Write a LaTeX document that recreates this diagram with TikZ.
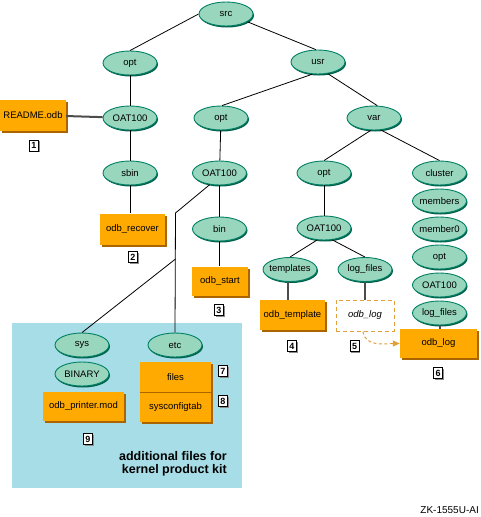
\documentclass[tikz,border=0pt]{standalone}
\usepackage{fontspec}
\setmainfont{Liberation Sans}
\usetikzlibrary{shapes.geometric,shadows,arrows.meta}

\definecolor{dirfill}{RGB}{153,214,190}
\definecolor{dirline}{RGB}{0,128,100}
\definecolor{dirshade}{RGB}{0,96,76}
\definecolor{filefill}{RGB}{255,170,0}
\definecolor{fileshade}{RGB}{170,100,0}
\definecolor{kitblue}{RGB}{166,221,230}
\definecolor{hintline}{RGB}{225,160,60}

\begin{document}
\begin{tikzpicture}[x=1pt,y=-1pt,
    dir/.style={ellipse,draw=dirline,line width=0.9pt,fill=dirfill,
      minimum width=54pt,minimum height=24pt,inner xsep=-10pt,inner ysep=0pt,
      font=\fontsize{9.5}{10}\selectfont,
      drop shadow={shadow xshift=1pt,shadow yshift=-1.5pt,fill=dirshade,opacity=1}},
    file/.style={rectangle,fill=filefill,inner sep=0pt,
      font=\fontsize{9.5}{10}\selectfont,
      drop shadow={shadow xshift=2pt,shadow yshift=-2pt,fill=fileshade,opacity=1}},
    tag/.style={draw,fill=white,line width=0.8pt,minimum width=9pt,minimum height=11pt,
      inner sep=0pt,font=\bfseries\fontsize{9}{9}\selectfont,
      drop shadow={shadow xshift=1pt,shadow yshift=-1pt,fill=black!45,opacity=1}},
    edge/.style={line width=0.8pt},
    link/.style={line width=2pt,black!70}]
    \useasboundingbox (0,0) rectangle (481,517);
    % kernel kit area
    \fill[kitblue] (12,323) rectangle (242,488);
    % left branch
    \node[dir] (src) at (226,14) {src};
    \node[dir] (optA) at (130,63) {opt};
    \node[dir] (oatA) at (130,118) {OAT100};
    \node[dir] (sbin) at (130,173) {sbin};
    \node[file,minimum width=66pt,minimum height=31pt] (readme) at (33,115) {README.odb};
    \node[file,minimum width=65pt,minimum height=31pt] (recover) at (132.5,229) {odb\_recover};
    \node[tag] (t1) at (34,145.5) {1};
    \node[tag] (t2) at (133,257) {2};
    % usr branch
    \node[dir] (usr) at (318,62) {usr};
    \node[dir] (optB) at (221,118) {opt};
    \node[dir] (oatB) at (219.5,173) {OAT100};
    \node[dir] (bin) at (219.5,229) {bin};
    \node[file,minimum width=56pt,minimum height=29pt] (start) at (220,281) {odb\_start};
    \node[tag] (t3) at (219,310) {3};
    % var branch
    \node[dir] (var) at (374,118) {var};
    \node[dir] (optC) at (324,173) {opt};
    \node[dir] (oatC) at (324,228) {OAT100};
    \node[dir] (templ) at (290,269.5) {templates};
    \node[dir] (logC) at (365,269.5) {log\_files};
    \node[file,minimum width=65pt,minimum height=30pt] (template) at (292.5,315) {odb\_template};
    \node[rectangle,draw=hintline,line width=1pt,dash pattern=on 4pt off 3pt,fill=white,
      minimum width=58pt,minimum height=31pt,inner sep=0pt,
      font=\itshape\fontsize{9.5}{10}\selectfont] (logdash) at (365,315.5) {odb\_log};
    \node[tag] (t4) at (292,346) {4};
    \node[tag] (t5) at (354.5,346) {5};
    % cluster column
    \node[dir] (cluster) at (439.5,173) {cluster};
    \node[dir] (members) at (439.5,201) {members};
    \node[dir] (member0) at (439.5,229) {member0};
    \node[dir] (optD) at (439.5,257) {opt};
    \node[dir] (oatD) at (439.5,285) {OAT100};
    \node[dir] (logD) at (439.5,313) {log\_files};
    \node[file,minimum width=77pt,minimum height=29pt] (odblog) at (438.5,343.5) {odb\_log};
    \node[tag] (t6) at (438,373) {6};
    % kernel kit
    \node[dir] (sys) at (82,345) {sys};
    \node[dir] (etc) at (175,345) {etc};
    \node[dir] (binary) at (82,374) {BINARY};
    \node[file,minimum width=81pt,minimum height=29pt] (printer) at (83.5,406.5) {odb\_printer.mod};
    \node[file,minimum width=71pt,minimum height=31pt] (files) at (175.5,377) {files};
    \node[file,minimum width=71pt,minimum height=29pt,anchor=north] (syscfg) at (files.south) {sysconfigtab};
    \draw[line width=0.6pt,fileshade] (files.south west) -- (files.south east);
    \node[tag] (t7) at (223,371) {7};
    \node[tag] (t8) at (223,401) {8};
    \node[tag] (t9) at (88,439) {9};
    \node[anchor=north east,align=right,font=\bfseries\fontsize{12.5}{13}\selectfont,inner sep=0pt]
      (kit) at (227,451) {additional files for\\kernel product kit};
    \node[anchor=east,font=\fontsize{10}{10}\selectfont,inner sep=0pt] (zk) at (479,510) {ZK-1555U-AI};
    % the tree
    \draw[edge] (src.west) -- (optA.north);
    \draw[edge] (src.-20) -- (usr.100);
    \draw[edge] (optA) -- (oatA);
    \draw[edge] (oatA) -- (sbin);
    \draw[edge] (sbin.south) -- (sbin.south |- recover.north);
    \draw[link] (readme) -- (oatA);
    \draw[edge] (usr.-115) -- (optB.85);
    \draw[edge] (usr.-50) -- (var.75);
    \draw[edge] (optB) -- (oatB);
    \draw[edge] (oatB) -- (bin);
    \draw[edge] (bin.south) -- (bin.south |- start.north);
    \draw[edge] (var.-105) -- (optC.north);
    \draw[edge] (var.-60) -- (cluster.north);
    \draw[edge] (optC) -- (oatC);
    \draw[edge] (oatC.-120) -- (templ.north);
    \draw[edge] (oatC.-55) -- (logC.north);
    \draw[link] (templ.south -| 288,0) -- (288,0 |- template.north);
    \draw[link] (logC.south) -- (logC.south |- logdash.north);
    \draw[link] (logD.south) -- (logD.south |- odblog.north);
    % kernel kit branch
    \coordinate (bend) at (175.5,213);
    \coordinate (fork) at (175.5,259);
    \draw[edge] (oatB.-130) -- (bend) -- (etc.north);
    \draw[edge] (fork) -- (sys.north);
    % moved file
    \draw[hintline,line width=1pt,dash pattern=on 3pt off 2.5pt,-{Triangle[length=7pt,width=6pt]}]
      ([xshift=-2pt]logdash.south) .. controls +(2,16) and +(-14,0) .. (odblog.west);
\end{tikzpicture}
\end{document}
